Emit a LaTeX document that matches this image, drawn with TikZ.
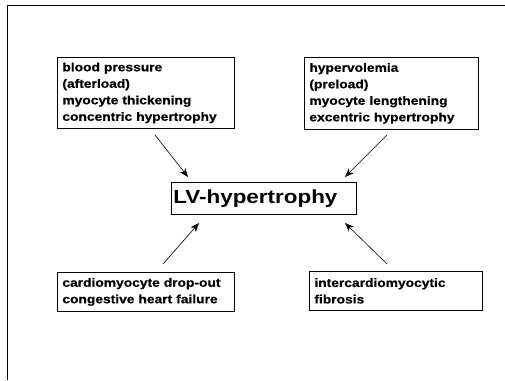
\documentclass[tikz,border=0pt]{standalone}
\usepackage{fontspec}
\setmainfont{Liberation Sans}
\newfontfamily\boxfont{Liberation Sans}[FakeStretch=1.15, BoldFeatures={FakeBold=0.6}]
\newfontfamily\centerfont{Liberation Sans}[FakeStretch=1.18]
\usetikzlibrary{arrows.meta}
\begin{document}
\begin{tikzpicture}[x=1pt,y=-1pt,
  frame/.style={line width=0.8pt},
  box/.style={draw, line width=0.8pt, anchor=north west, align=left, inner xsep=5pt, inner ysep=2pt,
    font=\boxfont\bfseries\fontsize{12}{16.5}\selectfont},
  mainbox/.style={draw, line width=0.8pt, anchor=north west, align=left, inner xsep=2pt, inner ysep=0pt,
    text width=181pt, font=\centerfont\bfseries\fontsize{19}{22}\selectfont},
  arr/.style={-{Stealth[length=9pt,width=7pt]}, line width=0.6pt}]
\useasboundingbox (0,0) rectangle (505,380);
\draw[frame] (505,5) -- (7,5) -- (7,380);
\node[box, text width=167pt, minimum height=71pt] (tl) at (57,57)
  {blood pressure\\(afterload)\\myocyte thickening\\concentric hypertrophy};
\node[box, text width=164pt, minimum height=72pt] (tr) at (304,57)
  {hypervolemia\\(preload)\\myocyte lengthening\\excentric hypertrophy};
\node[mainbox, minimum height=32pt] (c) at (171,182) {LV-hypertrophy};
\node[box, text width=167pt, minimum height=39pt] (bl) at (57,272)
  {cardiomyocyte drop-out\\congestive heart failure};
\node[box, text width=163pt, minimum height=39pt] (br) at (309,271)
  {intercardiomyocytic\\fibrosis};
\coordinate (a1s) at (155,135); \coordinate (a1e) at (188,177);
\coordinate (a2s) at (387,135); \coordinate (a2e) at (345,177);
\coordinate (a3s) at (163,264); \coordinate (a3e) at (199,223);
\coordinate (a4s) at (387,264); \coordinate (a4e) at (345,223);
\draw[arr] (a1s) -- (a1e);
\draw[arr] (a2s) -- (a2e);
\draw[arr] (a3s) -- (a3e);
\draw[arr] (a4s) -- (a4e);
\end{tikzpicture}
\end{document}
